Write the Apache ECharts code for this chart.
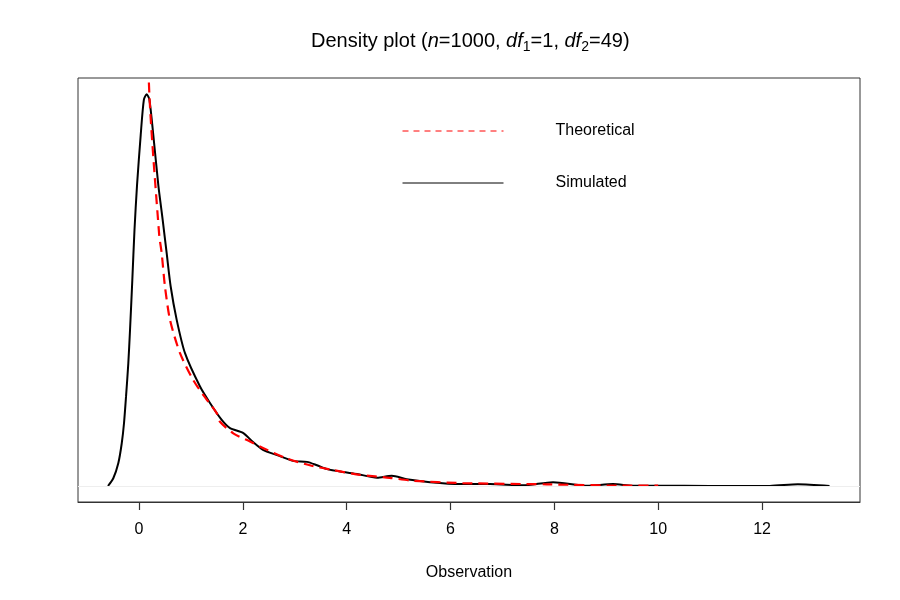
<!DOCTYPE html>
<html>
<head>
<meta charset="utf-8">
<script src="https://cdn.jsdelivr.net/npm/echarts@6/dist/echarts.min.js"></script>
<style>
  html, body { margin: 0; padding: 0; background: #fff; }
  #chart { width: 900px; height: 600px; }
</style>
</head>
<body>
<div id="chart"></div>
<script>
// kernel density of the 1000 simulated F(1,49) values
const simX = [-0.597, -0.495, -0.399, -0.333, -0.289, -0.25, -0.206, -0.173, -0.129, -0.087,
  -0.038, 0.033, 0.094, 0.148, 0.2, 0.275, 0.372, 0.456, 0.533, 0.61, 0.726, 0.886, 1.175,
  1.367, 1.593, 1.753, 2.003, 2.196, 2.388, 2.658, 2.966, 3.236, 3.428, 3.621, 3.929, 4.199,
  4.584, 4.867, 5.156, 5.605, 6.183, 6.761, 7.396, 7.974, 8.629, 9.13, 9.514, 10.5, 11.5,
  12.15, 12.69, 13.3];
const simY = [0.0, 0.016, 0.047, 0.088, 0.130, 0.185, 0.254, 0.323, 0.426, 0.530,
  0.623, 0.727, 0.800, 0.811, 0.800, 0.727, 0.623, 0.551, 0.482, 0.413, 0.344, 0.275, 0.206,
  0.172, 0.137, 0.120, 0.110, 0.091, 0.075, 0.064, 0.052, 0.050, 0.043, 0.035, 0.029, 0.025,
  0.017, 0.021, 0.014, 0.008, 0.004, 0.004, 0.0015, 0.008, 0.0006, 0.004, 0.0006, 0.0003, 0.0002,
  0.0002, 0.0035, 0.0];

// theoretical F(1,49) density
const theoX = [0.1, 0.2, 0.389, 0.437, 0.5, 0.597, 0.79, 1.046, 1.24, 1.496, 1.56, 1.816,
  2.138, 2.46, 2.845, 3.29, 3.74, 4.26, 4.83, 5.27, 6.23, 7.85, 9.45, 10];
const theoY = [1.2, 0.81, 0.52, 0.482, 0.413, 0.344, 0.275, 0.219, 0.188, 0.151, 0.133, 0.109,
  0.092, 0.075, 0.057, 0.043, 0.033, 0.023, 0.017, 0.011, 0.006, 0.0035, 0.0006, 0.001];

const xTicks = [0, 2, 4, 6, 8, 10, 12];

const pair = (xs, ys) => xs.map((x, i) => [x, ys[i]]);

const chart = echarts.init(document.getElementById('chart'));
const font = 'Liberation Sans, Arial, Helvetica, sans-serif';

chart.setOption({
  backgroundColor: '#fff',
  animation: false,
  textStyle: { fontFamily: font },
  title: {
    text: 'Density plot ({i|n}=1000, {i|df}{s|1}=1, {i|df}{s|2}=49)',
    left: 306,
    top: 24,
    textStyle: {
      fontFamily: font,
      fontSize: 20,
      fontWeight: 'normal',
      color: '#000',
      lineHeight: 25,
      rich: {
        i: { fontFamily: font, fontSize: 20, fontStyle: 'italic', color: '#000', lineHeight: 25 },
        s: { fontFamily: font, fontSize: 14, color: '#000', lineHeight: 14, verticalAlign: 'bottom' }
      }
    }
  },
  legend: {
    orient: 'vertical',
    left: 402,
    top: 123,
    padding: 0,
    itemWidth: 101,
    itemHeight: 16,
    itemGap: 36,
    // hide the marker dot, keep only the line
    itemStyle: { opacity: 0 },
    textStyle: { fontFamily: font, fontSize: 16, color: '#000', lineHeight: 16, padding: [0, 0, 0, 47] },
    data: [
      { name: 'Theoretical', lineStyle: { width: 1, type: [6, 5], opacity: 1 } },
      { name: 'Simulated', lineStyle: { width: 1, opacity: 1 } }
    ]
  },
  grid: {
    left: 78,
    right: 40,
    top: 78,
    bottom: 98,
    show: true,
    borderColor: '#333',
    borderWidth: 1,
    containLabel: false
  },
  xAxis: {
    type: 'value',
    min: -1.175,
    max: 13.887,
    name: 'Observation',
    nameLocation: 'middle',
    nameGap: 63,
    nameTextStyle: { fontFamily: font, fontSize: 16, color: '#000' },
    axisLine: { show: true, onZero: false, lineStyle: { color: '#333', width: 1 } },
    axisTick: { show: true, inside: false, length: 8, customValues: xTicks, lineStyle: { color: '#333', width: 1.2 } },
    axisLabel: { customValues: xTicks, margin: 20, fontFamily: font, fontSize: 16, color: '#000' },
    splitLine: { show: false }
  },
  yAxis: {
    type: 'value',
    min: -0.0331,
    max: 0.8447,
    show: false,
    splitLine: { show: false }
  },
  series: [
    {
      name: 'Theoretical',
      type: 'line',
      data: pair(theoX, theoY),
      showSymbol: false,
      symbol: 'none',
      smooth: 0.25,
      clip: true,
      lineStyle: { color: '#ff0000', width: 2.2, type: [10, 6] },
      itemStyle: { color: '#ff0000' },
      z: 3
    },
    {
      name: 'Simulated',
      type: 'line',
      data: pair(simX, simY),
      showSymbol: false,
      symbol: 'none',
      smooth: 0.25,
      clip: true,
      lineStyle: { color: '#000', width: 2 },
      itemStyle: { color: '#000' },
      markLine: {
        silent: true,
        symbol: 'none',
        label: { show: false },
        lineStyle: { color: '#eeeeee', width: 1, type: 'solid' },
        data: [{ yAxis: 0 }]
      },
      z: 2
    }
  ]
});
</script>
</body>
</html>
